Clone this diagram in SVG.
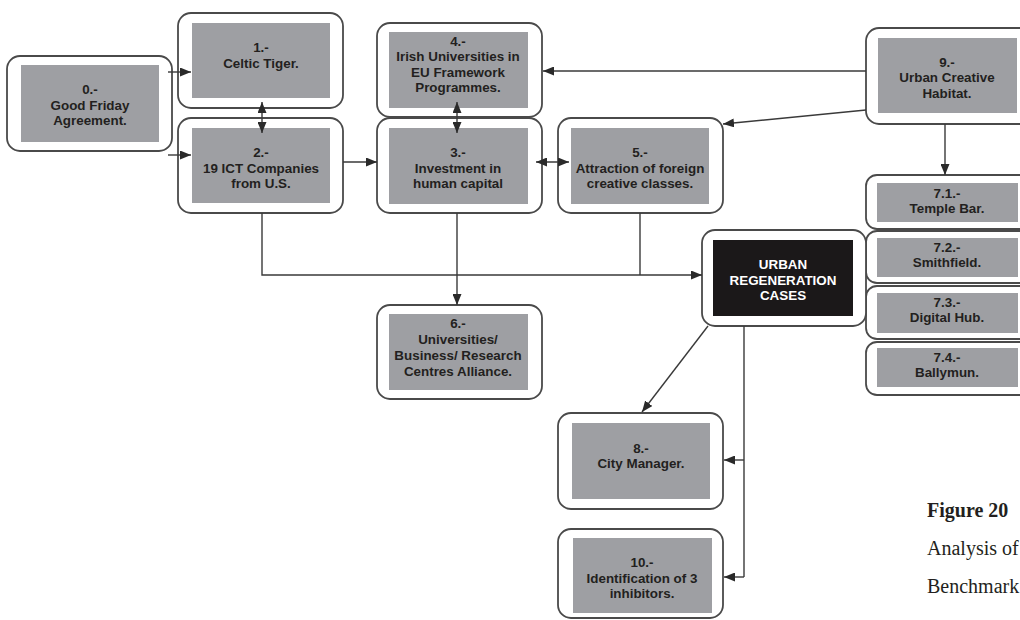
<svg xmlns="http://www.w3.org/2000/svg" width="1020" height="620" viewBox="0 0 1020 620">
<style>
.o{fill:#fff;stroke:#4a4a4a;stroke-width:1.8}
.i{fill:#9e9fa3}
.k{fill:#1b1819}
.t{font-family:"Liberation Sans",Arial,sans-serif;font-size:13.4px;font-weight:bold;fill:#231f20;text-anchor:middle}
.w{fill:#fff}
.c{fill:none;stroke:#3a3a3a;stroke-width:1.4}
.cap{font-family:"Liberation Serif","Times New Roman",serif;font-size:20px;fill:#231f20}
</style>
<defs>
<marker id="a" viewBox="0 0 11 9" refX="11" refY="4.5" markerWidth="11" markerHeight="9" markerUnits="userSpaceOnUse" orient="auto-start-reverse">
<path d="M0,0 L11,4.5 L0,9 Z" fill="#2a2a2a"/>
</marker>
</defs>
<rect width="1020" height="620" fill="#fff"/>
<g id="n0"><rect class="o" x="7" y="56" width="165" height="95" rx="13"/><rect class="i" x="21" y="65" width="138" height="77"/>
<text class="t" x="90" y="94">0.-</text><text class="t" x="90" y="109.5">Good Friday</text><text class="t" x="90" y="125">Agreement.</text></g>
<g id="n1"><rect class="o" x="178" y="13" width="165" height="95" rx="13"/><rect class="i" x="192" y="23" width="138" height="75"/>
<text class="t" x="261" y="52">1.-</text><text class="t" x="261" y="68">Celtic Tiger.</text></g>
<g id="n2"><rect class="o" x="178" y="118" width="165" height="95" rx="13"/><rect class="i" x="192" y="128" width="138" height="75"/>
<text class="t" x="261" y="157">2.-</text><text class="t" x="261" y="172.5">19 ICT Companies</text><text class="t" x="261" y="188">from U.S.</text></g>
<g id="n4"><rect class="o" x="377" y="23" width="165" height="94" rx="13"/><rect class="i" x="389" y="32" width="139" height="76"/>
<text class="t" x="458" y="45.5">4.-</text><text class="t" x="458" y="61">Irish Universities in</text><text class="t" x="458" y="76.5">EU Framework</text><text class="t" x="458" y="92">Programmes.</text></g>
<g id="n3"><rect class="o" x="377" y="118" width="165" height="95" rx="13"/><rect class="i" x="389" y="128" width="139" height="76"/>
<text class="t" x="458" y="157">3.-</text><text class="t" x="458" y="172.5">Investment in</text><text class="t" x="458" y="188">human capital</text></g>
<g id="n5"><rect class="o" x="558" y="118" width="165" height="95" rx="13"/><rect class="i" x="571" y="128" width="138" height="76"/>
<text class="t" x="640" y="157">5.-</text><text class="t" x="640" y="172.5">Attraction of foreign</text><text class="t" x="640" y="188">creative classes.</text></g>
<g id="n9"><rect class="o" x="866" y="28" width="170" height="96" rx="13"/><rect class="i" x="878" y="38" width="139" height="75"/>
<text class="t" x="947" y="66.5">9.-</text><text class="t" x="947" y="82">Urban Creative</text><text class="t" x="947" y="97.5">Habitat.</text></g>
<g id="n7_1"><rect class="o" x="866" y="175" width="170" height="54" rx="11"/><rect class="i" x="877" y="183" width="141" height="39"/>
<text class="t" x="947" y="197.5">7.1.-</text><text class="t" x="947" y="212.5">Temple Bar.</text></g>
<g id="n7_2"><rect class="o" x="866" y="231" width="170" height="52" rx="11"/><rect class="i" x="877" y="238" width="141" height="39"/>
<text class="t" x="947" y="251.5">7.2.-</text><text class="t" x="947" y="267">Smithfield.</text></g>
<g id="n7_3"><rect class="o" x="866" y="286" width="170" height="53" rx="11"/><rect class="i" x="877" y="293" width="141" height="40"/>
<text class="t" x="947" y="306.5">7.3.-</text><text class="t" x="947" y="321.5">Digital Hub.</text></g>
<g id="n7_4"><rect class="o" x="866" y="342" width="170" height="53" rx="11"/><rect class="i" x="877" y="348" width="141" height="39"/>
<text class="t" x="947" y="361.5">7.4.-</text><text class="t" x="947" y="376.5">Ballymun.</text></g>
<g id="urban"><rect class="o" x="702" y="230" width="164" height="96" rx="13"/><rect class="k" x="713" y="240" width="140" height="76"/>
<text class="t w" x="783" y="268.5">URBAN</text><text class="t w" x="783" y="284.5">REGENERATION</text><text class="t w" x="783" y="299.5">CASES</text></g>
<g id="n6"><rect class="o" x="377" y="305" width="165" height="94" rx="13"/><rect class="i" x="389" y="314" width="139" height="76"/>
<text class="t" x="458" y="327.5">6.-</text><text class="t" x="458" y="343.5">Universities/</text><text class="t" x="458" y="359.5">Business/ Research</text><text class="t" x="458" y="375.5">Centres Alliance.</text></g>
<g id="n8"><rect class="o" x="558" y="413" width="165" height="96" rx="13"/><rect class="i" x="572" y="423" width="138" height="76"/>
<text class="t" x="641" y="452.5">8.-</text><text class="t" x="641" y="467.5">City Manager.</text></g>
<g id="n10"><rect class="o" x="558" y="529" width="165" height="89" rx="13"/><rect class="i" x="573" y="538" width="139" height="75"/>
<text class="t" x="642" y="566.5">10.-</text><text class="t" x="642" y="582.5">Identification of 3</text><text class="t" x="642" y="597.5">inhibitors.</text></g>
<g id="connectors">
<path class="c" d="M168,72 H191" marker-end="url(#a)"/>
<path class="c" d="M168,155 H191" marker-end="url(#a)"/>
<path class="c" d="M262,102 V133" marker-start="url(#a)" marker-end="url(#a)"/>
<path class="c" d="M343,162 H377" marker-end="url(#a)"/>
<path class="c" d="M457,102 V133" marker-start="url(#a)" marker-end="url(#a)"/>
<path class="c" d="M536,162 H569" marker-start="url(#a)" marker-end="url(#a)"/>
<path class="c" d="M866,71 H543" marker-end="url(#a)"/>
<path class="c" d="M866,110 L723,124" marker-end="url(#a)"/>
<path class="c" d="M945,124 V175" marker-end="url(#a)"/>
<path class="c" d="M262,213 V275 H702" marker-end="url(#a)"/>
<path class="c" d="M640,213 V275"/>
<path class="c" d="M457,213 V305" marker-end="url(#a)"/>
<path class="c" d="M708,326 L642,412" marker-end="url(#a)"/>
<path class="c" d="M744,326 V577"/>
<path class="c" d="M744,460 H724" marker-end="url(#a)"/>
<path class="c" d="M744,577 H724" marker-end="url(#a)"/>
</g>
<g id="caption">
<text class="cap" x="927" y="517" font-weight="bold">Figure 20</text>
<text class="cap" x="927" y="555">Analysis of</text>
<text class="cap" x="927" y="593">Benchmark</text>
</g>
</svg>
